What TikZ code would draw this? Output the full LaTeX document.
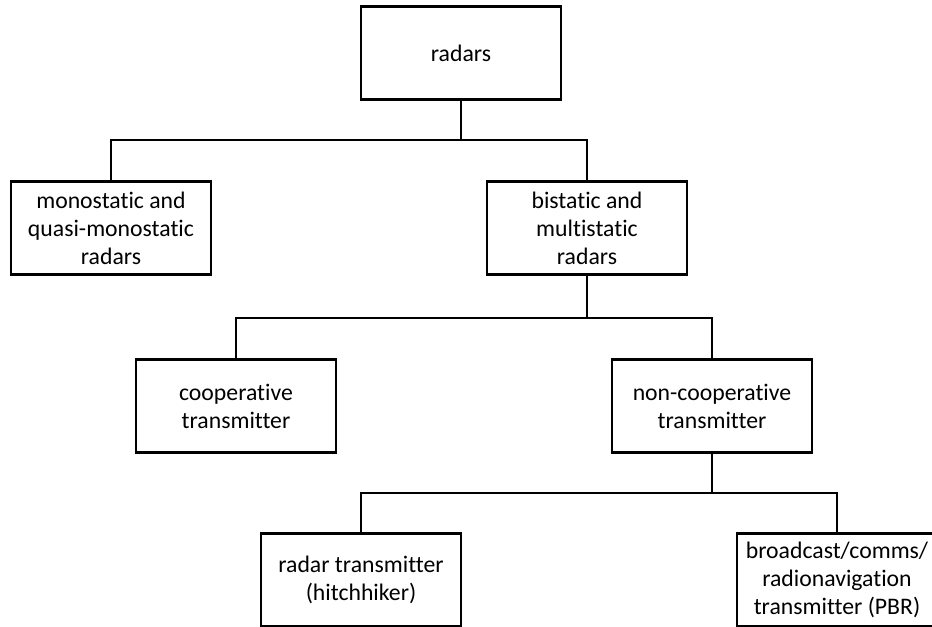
\documentclass[tikz,border=0pt]{standalone}
\usepackage{fontspec}
\setmainfont[Ligatures={NoCommon}]{Carlito}
\usepackage{tikz}

\begin{document}
\begin{tikzpicture}[x=0.75pt, y=-0.75pt, line width=1.7pt,
  every node/.style={rectangle, draw, align=center, minimum width=150pt,
    minimum height=69.75pt, inner sep=2pt, font=\fontsize{17.8}{21}\selectfont}]
  \useasboundingbox (0,0) rectangle (932,627);

  \node (radars) at (461, 53) {radars};
  \node (mono) at (111, 228) {monostatic and\\quasi-monostatic\\radars};
  \node (bi) at (587, 228) {bistatic and\\multistatic\\radars};
  \node (coop) at (236, 406) {cooperative\\transmitter};
  \node (noncoop) at (712, 406) {non-cooperative\\transmitter};
  \node (hitch) at (361, 580) {radar transmitter\\(hitchhiker)};
  \node (pbr) at (837, 580) {broadcast/comms/\\radionavigation\\transmitter (PBR)};

  \coordinate (j1) at (461, 140);
  \coordinate (j2) at (587, 318);
  \coordinate (j3) at (712, 493);

  \draw (radars) -- (j1);
  \draw (j1) -| (mono);
  \draw (j1) -| (bi);
  \draw (bi) -- (j2);
  \draw (j2) -| (coop);
  \draw (j2) -| (noncoop);
  \draw (noncoop) -- (j3);
  \draw (j3) -| (hitch);
  \draw (j3) -| (pbr);
\end{tikzpicture}
\end{document}
